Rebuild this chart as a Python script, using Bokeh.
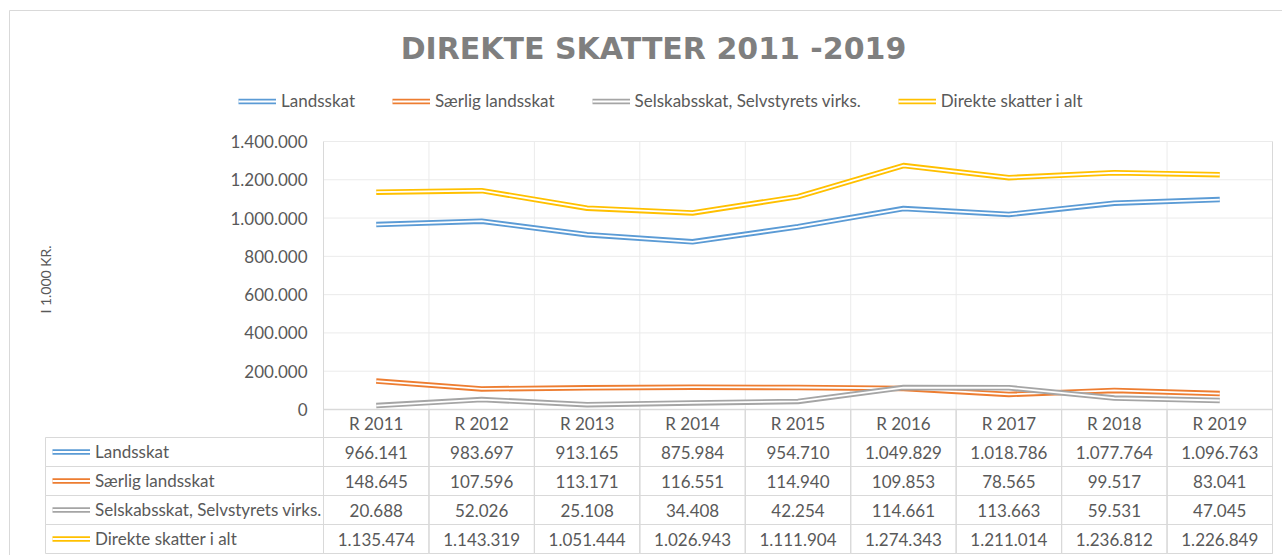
import math
from bokeh.plotting import figure
from bokeh.models import Range1d, FixedTicker, Legend, LegendItem, Label
from bokeh.core.properties import value
from bokeh.embed import file_html
from bokeh.resources import INLINE

# ---------------- data ----------------
TITLE = "DIREKTE SKATTER 2011 -2019"
Y_LABEL = "I 1.000 KR."
YEARS = ["R 2011", "R 2012", "R 2013", "R 2014", "R 2015", "R 2016", "R 2017", "R 2018", "R 2019"]
SERIES = ["Landsskat", "Særlig landsskat", "Selskabsskat, Selvstyrets virks.", "Direkte skatter i alt"]
landsskat = [966141, 983697, 913165, 875984, 954710, 1049829, 1018786, 1077764, 1096763]
saerlig_landsskat = [148645, 107596, 113171, 116551, 114940, 109853, 78565, 99517, 83041]
selskabsskat = [20688, 52026, 25108, 34408, 42254, 114661, 113663, 59531, 47045]
direkte_i_alt = [1135474, 1143319, 1051444, 1026943, 1111904, 1274343, 1211014, 1236812, 1226849]
Y_TICKS = [0, 200000, 400000, 600000, 800000, 1000000, 1200000, 1400000]
COLORS = ["#5B9BD5", "#ED7D31", "#A5A5A5", "#FFC000"]

VALUES = [landsskat, saerlig_landsskat, selskabsskat, direkte_i_alt]


def fmt(v):
    return f"{v:,}".replace(",", ".")


# ---------------- layout constants (pixels) ----------------
W, H = 1282, 555
BORDER_L, BORDER_T = 9, 10
PLOT_L, PLOT_R = 323, 1272
PLOT_T, ZERO_Y, HEAD_B = 141, 409, 437
TABLE_L, TABLE_B = 45, 553
TICK_LABEL_R = 307
LEG_L, LEG_TOP, LEG_H = 238, 91, 20
TITLE_CX, TITLE_CY = 653, 48
YLAB_X, YLAB_Y = 45, 279
KEY_L = 52

GRID_C = "#ebebeb"
TAB_C = "#d9d9d9"
TXT_C = "#595959"
FONT = "Lato"
FS = "17px"

n = len(YEARS)
nrow = len(SERIES)
col_px = (PLOT_R - PLOT_L) / n
row_px = (TABLE_B - HEAD_B) / nrow
per_px = Y_TICKS[-1] / (ZERO_Y - PLOT_T)


def v_at(py):          # value-axis coordinate of a pixel row
    return (ZERO_Y - py) * per_px


def t_at(py):          # table-row coordinate of a pixel row
    return (py - HEAD_B) / row_px


def x_at(px):          # category-axis coordinate of a pixel column
    return (px - PLOT_L) / col_px


xs = [i + 0.5 for i in range(n)]

# the frame covers the whole canvas, so nothing is clipped
p = figure(width=W, height=H,
           x_range=Range1d(x_at(0), x_at(W)), y_range=Range1d(v_at(H), v_at(0)),
           min_border_left=0, min_border_right=0, min_border_top=0, min_border_bottom=0,
           x_axis_location=None, title=None,
           toolbar_location=None, output_backend="svg")
p.extra_y_ranges = {"table": Range1d(t_at(H), t_at(0))}
p.outline_line_color = None
p.background_fill_color = "white"
p.border_fill_color = "white"
p.grid.visible = False

# value axis: labels pulled into the canvas with a negative standoff
ax = p.yaxis[0]
ax.ticker = FixedTicker(ticks=Y_TICKS)
ax.major_label_overrides = {t: fmt(t) for t in Y_TICKS}
ax.axis_line_color = None
ax.major_tick_line_color = None
ax.minor_tick_line_color = None
ax.major_tick_out = 0
ax.major_tick_in = 0
ax.major_label_standoff = -TICK_LABEL_R
ax.major_label_text_font = FONT
ax.major_label_text_font_size = FS
ax.major_label_text_color = TXT_C

# outer chart border
p.segment(x0=[x_at(BORDER_L), x_at(BORDER_L)], y0=[v_at(BORDER_T), v_at(BORDER_T)],
          x1=[x_at(BORDER_L), x_at(W)], y1=[v_at(H), v_at(BORDER_T)],
          line_color=TAB_C, line_width=1)

# gridlines of the plot area
bounds = list(range(n + 1))
p.segment(x0=[0] * (len(Y_TICKS) - 1), y0=Y_TICKS[1:], x1=[n] * (len(Y_TICKS) - 1),
          y1=Y_TICKS[1:], line_color=GRID_C, line_width=1)
p.segment(x0=bounds, y0=[v_at(TABLE_B)] * len(bounds), x1=bounds,
          y1=[Y_TICKS[-1]] * len(bounds),
          line_color=[TAB_C if b in (0, n) else GRID_C for b in bounds], line_width=1)
p.segment(x0=[0], y0=[0], x1=[n], y1=[0], line_color=TAB_C, line_width=1.5)

# chart title
p.add_layout(Label(x=x_at(TITLE_CX), y=v_at(TITLE_CY), text=TITLE,
                   text_align="center", text_baseline="middle",
                   text_font="DejaVu Sans", text_font_size="30px",
                   text_font_style="bold", text_color="#7F7F7F"))

# axis title
p.add_layout(Label(x=x_at(YLAB_X), y=v_at(YLAB_Y), text=Y_LABEL, angle=math.pi / 2,
                   text_align="center", text_baseline="middle", text_font=FONT,
                   text_font_size="14px", text_color=TXT_C))

# header row of the data table
head_h = (HEAD_B - ZERO_Y) / row_px
p.rect(x=xs, y=[-head_h / 2] * n, width=1, height=head_h, y_range_name="table",
       fill_color=None, line_color=TAB_C, line_width=1)
p.text(x=xs, y=[-head_h / 2] * n, text=YEARS, y_range_name="table",
       text_align="center", text_baseline="middle", text_font=value(FONT),
       text_font_size=FS, text_color=TXT_C)

# label column + value cells of the data table
rows_y = [r + 0.5 for r in range(nrow)]
lw = -x_at(TABLE_L)
p.rect(x=[-lw / 2] * nrow, y=rows_y, width=lw, height=1, y_range_name="table",
       fill_color=None, line_color=TAB_C, line_width=1)
cx, cy, ct = [], [], []
for r, vals in enumerate(VALUES):
    for c, v in enumerate(vals):
        cx.append(c + 0.5)
        cy.append(r + 0.5)
        ct.append(fmt(v))
p.rect(x=cx, y=cy, width=1, height=1, y_range_name="table",
       fill_color=None, line_color=TAB_C, line_width=1)
p.text(x=cx, y=cy, text=ct, y_range_name="table", text_align="center",
       text_baseline="middle", text_font=value(FONT), text_font_size=FS,
       text_color=TXT_C)

# double lines
top_items, table_items = [], []
for name, vals, color in zip(SERIES, VALUES, COLORS):
    outer = p.line(xs, vals, line_color=color, line_width=5.5, line_join="round")
    inner = p.line(xs, vals, line_color="white", line_width=1.8, line_join="round")
    top_items.append(LegendItem(label=name, renderers=[outer, inner]))
    table_items.append(LegendItem(label=name, renderers=[outer, inner]))

# legend above the chart
top_legend = Legend(items=top_items, orientation="horizontal", glyph_width=38,
                    glyph_height=LEG_H, label_height=LEG_H, label_standoff=5,
                    spacing=37, padding=0, margin=0, border_line_color=None,
                    background_fill_alpha=0, label_text_font=FONT,
                    label_text_font_size=FS, label_text_color=TXT_C,
                    location=(LEG_L, H - LEG_TOP - LEG_H))
p.add_layout(top_legend, "center")

# legend keys + names of the data table
table_legend = Legend(items=table_items, orientation="vertical", glyph_width=38,
                      glyph_height=int(row_px), label_height=int(row_px),
                      label_standoff=5, spacing=0, padding=0, margin=0,
                      border_line_color=None, background_fill_alpha=0,
                      label_text_font=FONT, label_text_font_size=FS,
                      label_text_color=TXT_C,
                      location=(KEY_L, H - TABLE_B))
p.add_layout(table_legend, "center")

open("out.html", "w").write(file_html(p, INLINE))
